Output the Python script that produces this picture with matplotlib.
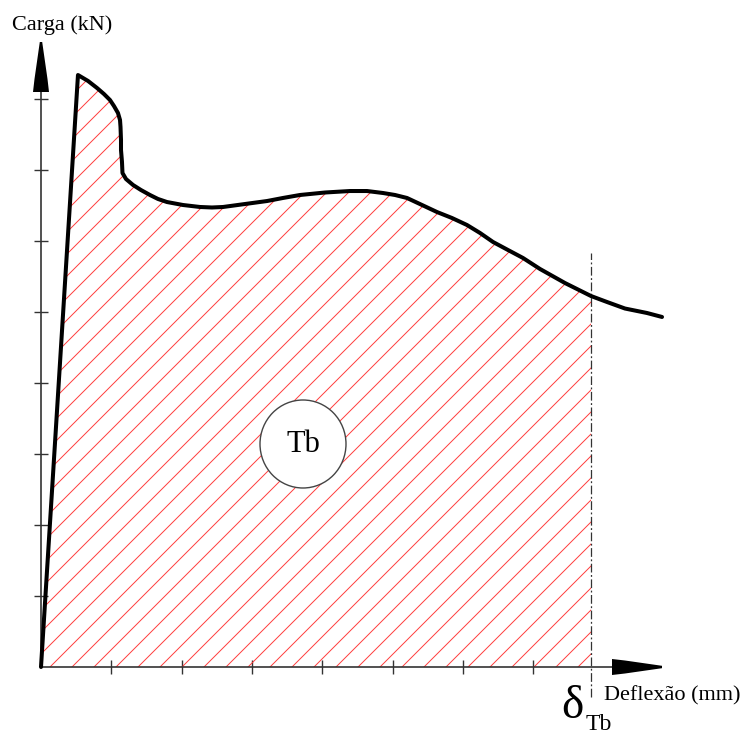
import numpy as np
import matplotlib.pyplot as plt
from matplotlib.patches import Polygon, Ellipse

# load-deflection curve
defl_mm = [0.0, 0.526, 0.669, 0.797, 0.896, 0.981, 1.038, 1.095, 1.124, 1.131,
           1.138, 1.138, 1.152, 1.159, 1.209, 1.309, 1.422, 1.550, 1.664, 1.792,
           2.020, 2.262, 2.432, 2.589, 2.902, 3.215, 3.442, 3.684, 4.040, 4.395,
           4.637, 4.865, 5.036, 5.206, 5.420, 5.633, 5.846, 6.060, 6.245, 6.430,
           6.643, 6.856, 7.098, 7.454, 7.824, 8.051, 8.307, 8.620, 8.834]
load_kN = [0.0, 8.338, 8.254, 8.155, 8.070, 7.986, 7.901, 7.803, 7.704, 7.606,
           7.423, 7.282, 7.113, 6.958, 6.873, 6.789, 6.718, 6.648, 6.592, 6.549,
           6.507, 6.479, 6.472, 6.479, 6.521, 6.563, 6.606, 6.648, 6.683, 6.704,
           6.704, 6.676, 6.648, 6.606, 6.507, 6.408, 6.324, 6.225, 6.113, 5.986,
           5.873, 5.761, 5.606, 5.408, 5.225, 5.141, 5.049, 4.986, 4.930]
delta_tb = 7.824
x_ticks = [1, 2, 3, 4, 5, 6, 7]
y_ticks = [1, 2, 3, 4, 5, 6, 7, 8]

# pixels per unit and origin position on the 746x734 canvas
SX, SY = 70.3, 71.0
X0, Y0 = 41, 667
W, H = 746, 734

serif = 'Liberation Serif'

fig = plt.figure(figsize=(W / 100, H / 100), dpi=100)
ax = fig.add_axes([0, 0, 1, 1])
ax.set_xlim(-X0 / SX, (W - X0) / SX)
ax.set_ylim(-(H - Y0) / SY, Y0 / SY)
ax.patch.set_visible(False)

# axes with crossing ticks
for s in ['top', 'right']:
    ax.spines[s].set_visible(False)
ax.spines['left'].set_position(('data', 0))
ax.spines['bottom'].set_position(('data', 0))
ax.spines['bottom'].set_bounds(0, (612 - X0) / SX)
ax.spines['left'].set_bounds(0, (Y0 - 92) / SY)
for s in ['left', 'bottom']:
    ax.spines[s].set_color('#333333')
    ax.spines[s].set_linewidth(1.2)
ax.set_xticks(x_ticks)
ax.set_yticks(y_ticks)
ax.set_xticklabels([])
ax.set_yticklabels([])
ax.tick_params(direction='inout', length=10, width=1.0, color='#333333')

# arrow heads (px offsets turned into data units)
head = [(0, 8), (13, 6.5), (50, 1.2), (50, -1.2), (13, -6.5), (0, -8)]
xb = (612 - X0) / SX
ax.add_patch(Polygon([(xb + a / SX, b / SY) for a, b in head],
                     closed=True, color='black', lw=0, zorder=5))
yb = (Y0 - 92) / SY
ax.add_patch(Polygon([(b / SX, yb + a / SY) for a, b in head],
                     closed=True, color='black', lw=0, zorder=5))

# hatched area up to delta_Tb
xs = np.array(defl_mm)
ys = np.array(load_kN)
m = xs <= delta_tb
poly = list(zip(xs[m], ys[m])) + [(delta_tb, 0)]
area = Polygon(poly, closed=True, facecolor='none', edgecolor='none')
ax.add_patch(area)
L = 1000
for k in range(-30, 30):
    x0 = (50 - X0 + 22 * k) / SX
    ln, = ax.plot([x0, x0 + L / SX], [0, L / SY], color='#ff3b3b', lw=0.7, zorder=2)
    ln.set_clip_path(area)

# curve
ax.plot(xs, ys, color='black', lw=2.9, solid_joinstyle='round',
        solid_capstyle='round', zorder=4)

# dashed line at delta_Tb
ax.plot([delta_tb, delta_tb], [-(697 - Y0) / SY, (Y0 - 253) / SY],
        color='#333333', lw=0.9, dashes=(7, 2, 1.5, 2), zorder=3)

# Tb circle
cx, cy = (303 - X0) / SX, (Y0 - 444) / SY
ax.add_patch(Ellipse((cx, cy), 86 / SX, 88 / SY, facecolor='white',
                     edgecolor='#444444', lw=1.0, zorder=6))
ax.text(cx, cy, 'Tb', family=serif, fontsize=22, ha='center', va='center', zorder=7)

# labels
fig.text(12 / W, 1 - 25 / H, 'Carga (kN)', family=serif, fontsize=16,
         ha='left', va='center')
fig.text(604 / W, 1 - 696 / H, 'Deflexão (mm)', family=serif, fontsize=16,
         ha='left', va='center')
fig.text(561 / W, 1 - 707 / H, 'δ', family=serif, fontsize=34,
         ha='left', va='center')
fig.text(586 / W, 1 - 730 / H, 'Tb', family=serif, fontsize=17,
         ha='left', va='baseline')

fig.savefig('out.png', dpi=100)
